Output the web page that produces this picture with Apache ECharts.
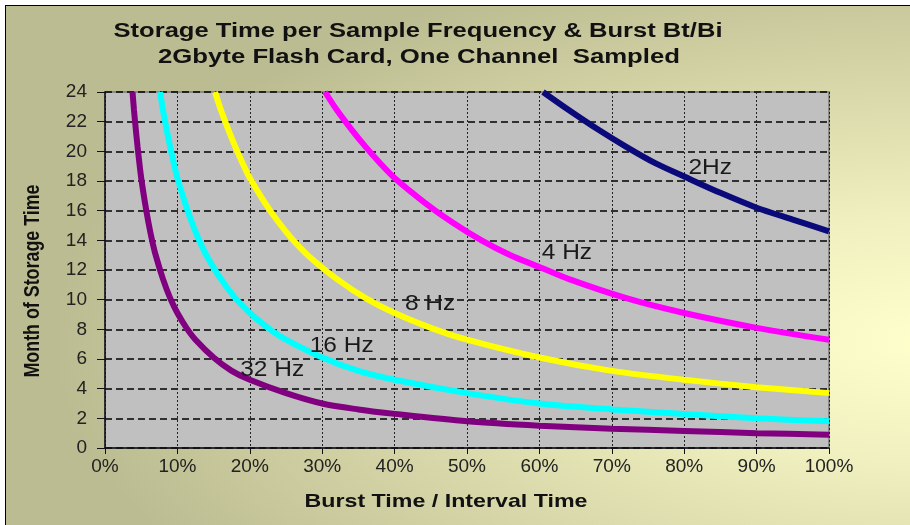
<!DOCTYPE html>
<html><head><meta charset="utf-8">
<script src="https://cdn.jsdelivr.net/npm/echarts@6/dist/echarts.min.js"></script>
<style>
html,body{margin:0;padding:0;background:#fff;}
#wrap{position:relative;width:910px;height:525px;overflow:hidden;background:#fff;}
#bg{position:absolute;left:5px;top:5px;width:930px;height:540px;border-left:1px solid #000;border-top:1px solid #000;
background:radial-gradient(ellipse 95% 75% at 100% 62%, #ffffcc 0%, #f0f0c0 30%, #d6d6a8 65%, #bcbc92 100%);}
#chart{position:absolute;left:0;top:0;width:910px;height:525px;}
</style></head>
<body><div id="wrap"><div id="bg"></div><div id="chart"></div></div>
<script>
// ---- data ----
const titleLines = ['Storage Time per Sample Frequency & Burst Bt/Bi', '2Gbyte Flash Card, One Channel  Sampled'];
const xAxisTitle = 'Burst Time / Interval Time';
const yAxisTitle = 'Month of Storage Time';
const seriesNames = ['2Hz', '4 Hz', '8 Hz', '16 Hz', '32 Hz'];
const yTicks = [0, 2, 4, 6, 8, 10, 12, 14, 16, 18, 20, 22, 24];
const xTicks = [0, 10, 20, 30, 40, 50, 60, 70, 80, 90, 100];

const x2Hz = [60.5, 64, 68, 72, 76, 80, 85, 90, 95, 100];
const y2Hz = [24.0, 22.8, 21.5, 20.3, 19.2, 18.3, 17.2, 16.2, 15.4, 14.6];

const x4Hz = [30.4, 32, 34, 36, 38, 40, 44, 48, 52, 56, 60, 64, 72, 80, 90, 100];
const y4Hz = [24.0, 22.8, 21.5, 20.3, 19.2, 18.2, 16.6, 15.2, 14.0, 13.0, 12.2, 11.4, 10.1, 9.1, 8.1, 7.3];

const x8Hz = [15.2, 16, 17, 18, 19, 20, 22, 24, 26, 28, 32, 36, 40, 45, 50, 60, 70, 80, 90, 100];
const y8Hz = [24.0, 22.8, 21.5, 20.3, 19.2, 18.2, 16.6, 15.2, 14.0, 13.0, 11.4, 10.1, 9.1, 8.1, 7.3, 6.1, 5.2, 4.6, 4.1, 3.7];

const x16Hz = [7.6, 8, 8.5, 9, 9.5, 10, 11, 12, 13, 14, 16, 18, 20, 22.5, 25, 30, 35, 40, 50, 60, 70, 80, 90, 100];
const y16Hz = [24.0, 22.8, 21.5, 20.3, 19.2, 18.2, 16.6, 15.2, 14.0, 13.0, 11.4, 10.1, 9.1, 8.1, 7.3, 6.1, 5.2, 4.6, 3.7, 3.0, 2.6, 2.3, 2.0, 1.8];

const x32Hz = [3.8, 4, 4.25, 4.5, 4.75, 5, 5.5, 6, 6.5, 7, 8, 9, 10, 11.25, 12.5, 15, 17.5, 20, 25, 30, 35, 40, 50, 60, 70, 80, 90, 100];
const y32Hz = [24.0, 22.8, 21.5, 20.3, 19.2, 18.2, 16.6, 15.2, 14.0, 13.0, 11.4, 10.1, 9.1, 8.1, 7.3, 6.1, 5.2, 4.6, 3.7, 3.0, 2.6, 2.3, 1.8, 1.5, 1.3, 1.15, 1.0, 0.9];

// where each curve's name is written (data coordinates of the text centre)
const labelX = [83.6, 63.8, 44.9, 32.7, 23.1];
const labelY = [18.9, 13.15, 9.7, 6.9, 5.26];

const seriesColors = ['#0a0a7a', '#ff00ff', '#ffff00', '#00ffff', '#800080'];

// ---- chart ----
const xs = [x2Hz, x4Hz, x8Hz, x16Hz, x32Hz];
const ys = [y2Hz, y4Hz, y8Hz, y16Hz, y32Hz];
const FONT = '"Liberation Sans", Arial, sans-serif';

const chart = echarts.init(document.getElementById('chart'), null, {renderer: 'canvas'});

const series = seriesNames.map((n, i) => ({
  name: n, type: 'line', smooth: 0.3, showSymbol: false, clip: true,
  data: xs[i].map((x, j) => [x, ys[i][j]]),
  lineStyle: {color: seriesColors[i], width: 6},
  itemStyle: {color: seriesColors[i]},
  z: 10 - i
}));

chart.setOption({
  backgroundColor: 'transparent',
  animation: false,
  grid: {left: 105, right: 81, top: 92, bottom: 77, show: true, backgroundColor: '#c0c0c0', borderColor: '#8a8a8a', borderWidth: 2},
  xAxis: {
    type: 'value', min: xTicks[0], max: xTicks[xTicks.length - 1], interval: 10,
    axisLine: {show: true, onZero: false, lineStyle: {color: '#111', width: 1.5}},
    axisTick: {show: true, length: 6, inside: false, lineStyle: {color: '#111'}},
    axisLabel: {formatter: '{value}%', color: '#222', fontSize: 19, fontFamily: FONT, margin: 9},
    splitLine: {show: true, lineStyle: {color: '#222', width: 1, type: [2, 2]}}
  },
  yAxis: {
    type: 'value', min: yTicks[0], max: yTicks[yTicks.length - 1], interval: 2,
    axisLine: {show: true, lineStyle: {color: '#111', width: 1.5}},
    axisTick: {show: true, length: 8, lineStyle: {color: '#111'}},
    axisLabel: {color: '#222', fontSize: 19, fontFamily: FONT, margin: 18},
    splitLine: {show: true, lineStyle: {color: '#000', width: 1.6, type: [7, 4]}}
  },
  series: series
});

function measure(text, font) {
  const c = document.createElement('canvas').getContext('2d');
  c.font = font;
  return c.measureText(text).width;
}
function txt(text, x, y, font, targetW, rot) {
  const w = measure(text, font);
  const sx = targetW ? targetW / w : 1;
  return {type: 'text', x: x, y: y, rotation: rot || 0, scaleX: sx, z: 100,
    style: {text: text, font: font, fill: '#111', align: 'center', verticalAlign: 'middle',
      textAlign: 'center', textVerticalAlign: 'middle'}};
}
const titleFont = 'bold 20px ' + FONT;
const labelFont = '22px ' + FONT;
const lblScale = 64 / measure('16 Hz', labelFont);
const yName = txt(yAxisTitle, 33, 281, 'bold 18px ' + FONT, 193, Math.PI / 2);
yName.scaleY = 1.25;
const els = [
  txt(titleLines[0], 418, 31, titleFont, 609),
  txt(titleLines[1], 419, 57, titleFont, 522),
  txt(xAxisTitle, 446, 502, 'bold 19px ' + FONT, 283),
  yName
];
seriesNames.forEach((n, i) => {
  const p = chart.convertToPixel({gridIndex: 0}, [labelX[i], labelY[i]]);
  const e = txt(n, p[0], p[1], labelFont, 0);
  e.scaleX = lblScale;
  e.style.fill = '#1a1a1a';
  els.push(e);
});
chart.setOption({graphic: {elements: els}});
</script></body></html>
